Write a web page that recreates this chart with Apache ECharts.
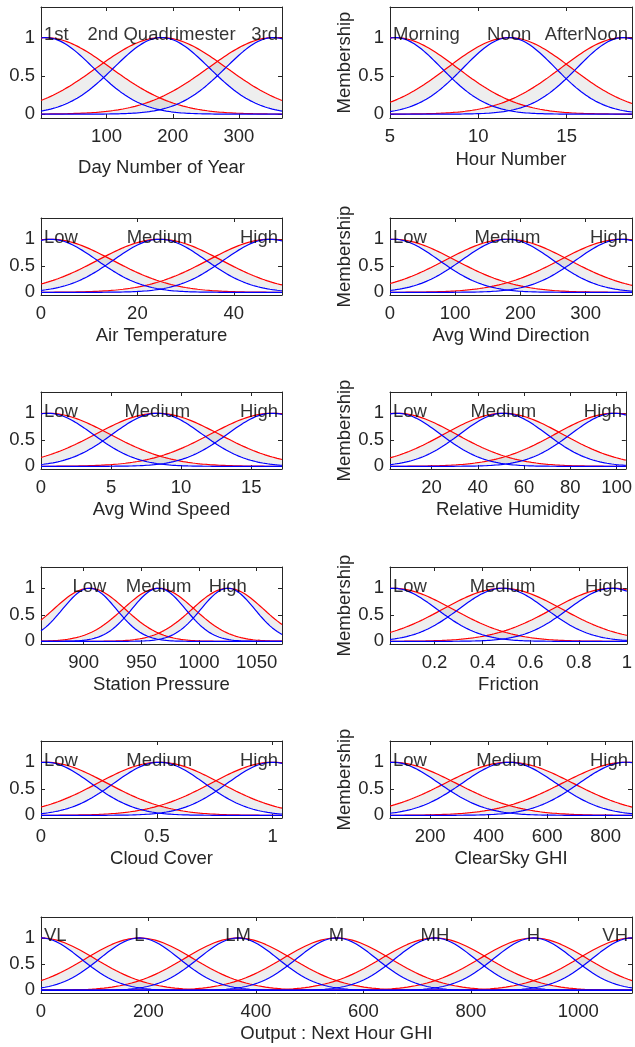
<!DOCTYPE html>
<html><head><meta charset="utf-8">
<script src="https://cdn.jsdelivr.net/npm/echarts@6/dist/echarts.min.js"></script>
<style>html,body{margin:0;padding:0;background:#fff}#c{width:635px;height:1047px}</style>
</head><body><div id="c"></div>
<script>
// ---------- data ----------
const axisTitles = ['Day Number of Year','Hour Number','Air Temperature','Avg Wind Direction','Avg Wind Speed','Relative Humidity','Station Pressure','Friction','Cloud Cover','ClearSky GHI','Output : Next Hour GHI'];
const xMin = [1, 5, 0, 0, 0, 2, 863, 0.015, 0, 63, 0];
const xMax = [365, 18.7, 50, 371, 17.2, 104, 1072, 1, 1.04, 890, 1100];
const xTicks = [[100,200,300],[5,10,15],[0,20,40],[0,100,200,300],[0,5,10,15],[20,40,60,80,100],[900,950,1000,1050],[0.2,0.4,0.6,0.8,1],[0,0.5,1],[200,400,600,800],[0,200,400,600,800,1000]];
const yTicks = [0, 0.5, 1];
const mfNames = [
  ['1st','2nd Quadrimester','3rd'],
  ['Morning','Noon','AfterNoon'],
  ['Low','Medium','High'],
  ['Low','Medium','High'],
  ['Low','Medium','High'],
  ['Low','Medium','High'],
  ['Low','Medium','High'],
  ['Low','Medium','High'],
  ['Low','Medium','High'],
  ['Low','Medium','High'],
  ['VL','L','LM','M','MH','H','VH']
];
const mfCenters = [
  [8, 183, 352],
  [5.3, 11.75, 18.2],
  [2, 24.6, 47.5],
  [5, 180, 355],
  [0.5, 8.3, 16.5],
  [5, 51, 99],
  [905, 965, 1025],
  [0.028, 0.483, 0.938],
  [0.02, 0.51, 1.0],
  [70, 470, 870],
  [0, 183.3, 366.7, 550, 733.3, 916.7, 1100]
];
const sigmaUpper = [98, 3.5, 12.8, 95, 4.4, 25.6, 31, 0.248, 0.265, 218, 100];
const sigmaLower = [72, 2.6, 9.6, 70, 3.2, 18.8, 23.3, 0.182, 0.195, 160, 74];

// ---------- layout ----------
const FONT = '"Liberation Sans", Arial, Helvetica, sans-serif';
const FS = 18.5;
const AX = '#262626';
const rowTop = [7, 218, 392, 567, 741];
const rowH = [111, 77, 77, 77, 77];
function gridOf(i){
  if (i === 10) return {left:41, top:917, width:591, height:76};
  const r = Math.floor(i/2), c = i%2;
  return {left: c ? 390 : 41, top: rowTop[r], width: c ? 242 : 241, height: rowH[r]};
}
const cv = document.createElement('canvas').getContext('2d');
cv.font = FS + 'px ' + FONT;

const grids=[], xAxes=[], yAxes=[], series=[];
const NS = 300;
function gauss(x,c,s){ return Math.exp(-(x-c)*(x-c)/(2*s*s)); }
function fmt(v){ return String(+v.toFixed(6)); }

for (let i=0;i<axisTitles.length;i++){
  const g = gridOf(i);
  grids.push(Object.assign({containLabel:false}, g));
  const lo = xMin[i], hi = xMax[i];
  const base = {gridIndex:i, type:'value', min:lo, max:hi, splitLine:{show:false},
    axisLine:{show:true, onZero:false, lineStyle:{color:AX, width:1}}};
  xAxes.push(Object.assign({}, base, {position:'bottom',
    name: axisTitles[i], nameLocation:'middle', nameGap: i===0 ? 40 : (i===1 ? 32 : 31),
    nameTextStyle:{fontSize:FS, color:AX, fontFamily:FONT},
    axisTick:{show:true, inside:true, length:4, customValues:xTicks[i], lineStyle:{color:AX}},
    axisLabel:{show:true, customValues:xTicks[i], margin:9, fontSize:FS, color:AX, fontFamily:FONT, formatter:fmt, hideOverlap:false}}));
  xAxes.push(Object.assign({}, base, {position:'top',
    axisTick:{show:true, inside:true, length:4, customValues:xTicks[i], lineStyle:{color:AX}},
    axisLabel:{show:false}}));
  const ybase = {gridIndex:i, type:'value', min:-0.05, max:1.4, splitLine:{show:false},
    axisLine:{show:true, onZero:false, lineStyle:{color:AX, width:1}}};
  const yLeft = Object.assign({}, ybase, {position:'left',
    axisTick:{show:true, inside:true, length:4, customValues:yTicks, lineStyle:{color:AX}},
    axisLabel:{show:true, customValues:yTicks, margin:6, fontSize:FS, color:AX, fontFamily:FONT, formatter:fmt}});
  if (i < 10 && i%2===1){
    yLeft.name = 'Membership'; yLeft.nameLocation='middle'; yLeft.nameGap=34;
    yLeft.nameTextStyle = {fontSize:FS, color:AX, fontFamily:FONT};
  }
  yAxes.push(yLeft);
  yAxes.push(Object.assign({}, ybase, {position:'right',
    axisTick:{show:true, inside:true, length:4, customValues:yTicks, lineStyle:{color:AX}},
    axisLabel:{show:false}}));

  const xs = [];
  for (let k=0;k<=NS;k++) xs.push(lo + (hi-lo)*k/NS);
  const ppu = g.width/(hi-lo);
  const labelData = [];
  const fills = [], reds = [], blues = [];
  mfCenters[i].forEach((c,j)=>{
    const su = sigmaUpper[i], sl = sigmaLower[i];
    const up = xs.map(x=>gauss(x,c,su));
    const low = xs.map(x=>gauss(x,c,sl));
    const common = {xAxisIndex:2*i, yAxisIndex:2*i, silent:true, animation:false};
    // grey band between the upper and the lower membership function
    fills.push(Object.assign({}, common, {type:'custom', z:1, clip:true,
      data:[[lo, 0]],
      renderItem:function(params, api){
        const pts = [];
        for (let k=0;k<xs.length;k++) pts.push(api.coord([xs[k], up[k]]));
        for (let k=xs.length-1;k>=0;k--) pts.push(api.coord([xs[k], low[k]]));
        return {type:'polygon', shape:{points:pts}, style:{fill:'rgba(0,0,0,0.065)', stroke:null}};
      }}));
    reds.push(Object.assign({}, common, {type:'line', showSymbol:false, symbol:'none', z:2,
      lineStyle:{color:'#ff0000', width:1.2}, data: xs.map((x,k)=>[x, up[k]])}));
    blues.push(Object.assign({}, common, {type:'line', showSymbol:false, symbol:'none', z:3,
      lineStyle:{color:'#0000ff', width:1.2}, data: xs.map((x,k)=>[x, low[k]])}));
    // label placement: centred on the peak, kept inside the box
    const name = mfNames[i][j];
    const w = cv.measureText(name).width;
    const cpx = (c-lo)*ppu;
    let lx = c, al = 'center';
    if (cpx - w/2 < 3){ lx = lo + 3/ppu; al='left'; }
    else if (cpx + w/2 > g.width - 4){ lx = hi - 4/ppu; al='right'; }
    labelData.push({value:[lx, 1.03], label:{align:al, formatter:name}});
  });
  series.push(...fills, ...reds, ...blues);
  series.push({type:'scatter', xAxisIndex:2*i, yAxisIndex:2*i, symbolSize:1, z:5, silent:true, animation:false,
    itemStyle:{color:'transparent'},
    label:{show:true, position:'inside', verticalAlign:'middle', fontSize:FS, color:'#000', fontFamily:FONT},
    data: labelData});
}

const chart = echarts.init(document.getElementById('c'), null, {renderer:'canvas'});
chart.setOption({backgroundColor:'#fff', animation:false, textStyle:{fontFamily:FONT},
  grid:grids, xAxis:xAxes, yAxis:yAxes, series:series});
</script></body></html>
